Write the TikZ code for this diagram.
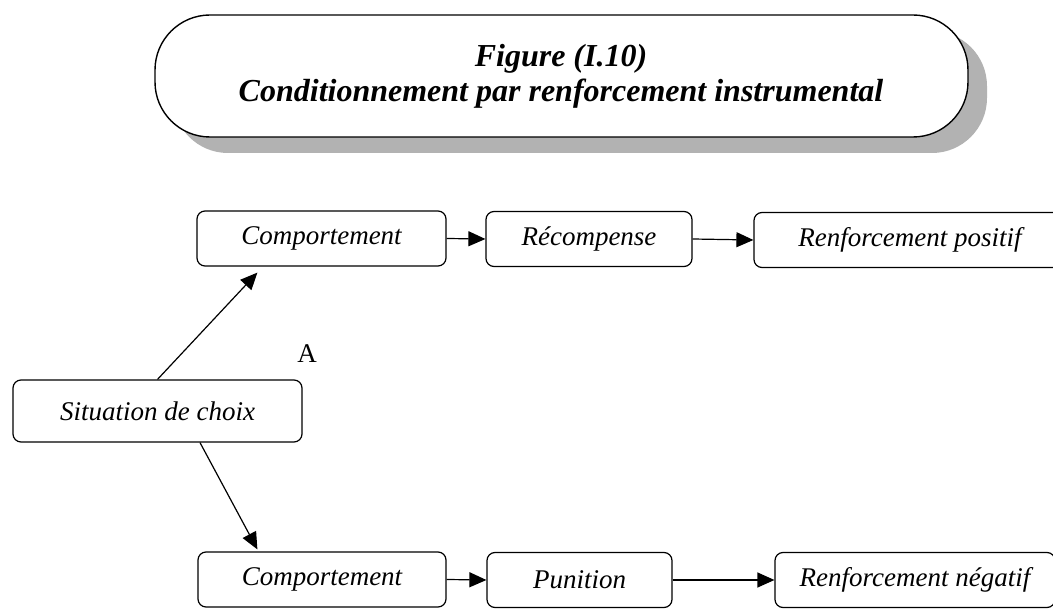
\documentclass[tikz,border=0pt]{standalone}
\usepackage{fontspec}
\setmainfont{Liberation Serif}
\usetikzlibrary{arrows.meta,calc}
\begin{document}
\begin{tikzpicture}[x=1pt,y=-1pt,
  box/.style={draw,line width=1.2pt,rounded corners=8pt,minimum height=55pt,
    inner sep=0pt,font=\fontsize{27}{30}\selectfont\itshape},
  arr/.style={line width=1.2pt,-{Triangle[length=17pt,width=15pt]}},
  banner/.style={line width=1.4pt,rounded corners=55pt}]
\useasboundingbox (0,0) rectangle (1053,609);
\clip (0,0) rectangle (1053,609);
% title banner with its shadow
\fill[gray!60,rounded corners=55pt] (173,31) rectangle (987,153);
\draw[banner,fill=white] (155,15) rectangle (968,137);
\node[font=\fontsize{32}{35}\selectfont\bfseries\itshape,align=center] (title) at (561,76)
  {Figure (I.10)\\Conditionnement par renforcement instrumental};
% boxes
\node[box,minimum width=249pt] (c1) at (321.5,238.5) {Comportement};
\node[box,minimum width=206pt] (r1) at (589,239) {Récompense};
\node[box,minimum width=312pt] (p1) at (910,240) {Renforcement positif};
\node[box,minimum width=289pt,minimum height=62pt] (s) at (157.5,411) {Situation de choix};
\node[box,minimum width=248pt] (c2) at (322,579.5) {Comportement};
\node[box,minimum width=185pt] (pu) at (579.5,580) {Punition};
\node[box,minimum width=280pt] (n2) at (915,580) {Renforcement négatif};
\node[font=\fontsize{27}{30}\selectfont] (a) at (307,354) {A};
% connectors
\draw[arr] (c1.east) -- (r1.west);
\draw[arr] (r1.east) -- (p1.west);
\draw[arr] (c2.east) -- (pu.west);
\draw[arr] (pu.east) -- (n2.west);
\draw[arr] (s.north) -- ($(c1.south west)+(61,6)$);
\draw[arr] ($(s.south)+(42.5,0)$) -- ($(c2.north west)+(60,-2)$);
\end{tikzpicture}
\end{document}
